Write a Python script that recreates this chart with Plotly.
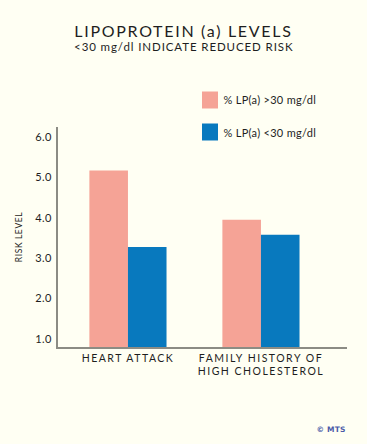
import plotly.graph_objects as go

categories = ["HEART ATTACK", "FAMILY HISTORY OF<br>HIGH CHOLESTEROL"]
series_names = ["% LP(a) >30 mg/dl", "% LP(a) <30 mg/dl"]
high_values = [5.17, 3.95]
low_values = [3.28, 3.58]
y_ticks = [1, 2, 3, 4, 5, 6]
y_tick_labels = ["1.0", "2.0", "3.0", "4.0", "5.0", "6.0"]

PINK = "#F5A396"
BLUE = "#0879BE"
BG = "#FFFFF3"
AXIS = "#8c8c84"
TXT = "#1e1e1e"
FONT = "Lato"

W, H = 367, 444
L, R, T, B = 58, 20, 127, 97
PW, PH = W - L - R, H - T - B


def px(p):
    return (p - L) / PW


def py(p):
    return 1 - (p - T) / PH


fig = go.Figure()
fig.add_trace(go.Bar(x=categories, y=high_values, name=series_names[0],
                     marker=dict(color=PINK, line=dict(width=0)), showlegend=False))
fig.add_trace(go.Bar(x=categories, y=low_values, name=series_names[1],
                     marker=dict(color=BLUE, line=dict(width=0)), showlegend=False))

fig.update_layout(
    width=W, height=H,
    paper_bgcolor=BG, plot_bgcolor=BG,
    margin=dict(l=L, r=R, t=T, b=B, pad=0),
    barmode="group", bargap=0.42, bargroupgap=0,
    font=dict(family=FONT, color=TXT),
    showlegend=False,
    xaxis=dict(range=[-0.526, 1.647], showline=True, linecolor=AXIS, linewidth=2,
               ticks="", showgrid=False, zeroline=False, automargin=False,
               tickfont=dict(size=10.5, color=TXT)),
    yaxis=dict(range=[0.8, 6.25], showline=True, linecolor=AXIS, linewidth=2,
               tickvals=y_ticks, ticktext=y_tick_labels, ticks="", showgrid=False,
               zeroline=False, automargin=False, ticklabelstandoff=2,
               tickfont=dict(size=11, color=TXT),
               title=dict(text="RISK LEVEL", font=dict(size=8.5, color=TXT), standoff=12)),
)

# Title and subtitle
fig.add_annotation(text="LIPOPROTEIN (a) LEVELS", xref="paper", yref="paper",
                   x=px(183), y=py(30), xanchor="center", yanchor="middle",
                   showarrow=False, font=dict(size=16, color=TXT, family=FONT))
fig.add_annotation(text="<30 mg/dl INDICATE REDUCED RISK", xref="paper", yref="paper",
                   x=px(184), y=py(47), xanchor="center", yanchor="middle",
                   showarrow=False, font=dict(size=11.5, color=TXT, family=FONT))

# Custom legend
legend_rows = [(PINK, series_names[0], 100), (BLUE, series_names[1], 132)]
for color, label, yc in legend_rows:
    fig.add_shape(type="rect", xref="paper", yref="paper",
                  x0=px(202), x1=px(218), y0=py(yc - 8.5), y1=py(yc + 8.5),
                  fillcolor=color, line=dict(width=0))
    fig.add_annotation(text=label, xref="paper", yref="paper", x=px(224), y=py(yc),
                       xanchor="left", yanchor="middle", showarrow=False,
                       font=dict(size=11, color=TXT, family=FONT))

fig.add_annotation(text="<b>© MTS</b>", xref="paper", yref="paper", x=px(347), y=py(429),
                   xanchor="right", yanchor="middle", showarrow=False,
                   font=dict(size=7.5, color="#4a5aa8", family="DejaVu Sans"))

post = """
document.documentElement.style.margin = '0';
document.body.style.margin = '0';
document.body.style.padding = '0';
var gd = document.querySelector('.js-plotly-plot');
function sp(sel, v){ gd.querySelectorAll(sel).forEach(function(t){ t.style.letterSpacing = v; }); }
var ann = gd.querySelectorAll('.annotation-text');
var vals = ['1.7px', '0.9px', '0.3px', '0.3px', '0.2px'];
ann.forEach(function(t, i){ t.style.letterSpacing = vals[i] || '0px'; });
sp('.xtick text', '1.5px');
sp('.ytick text', '0.4px');
sp('.g-ytitle text', '0.6px');
"""

fig.write_html("out.html", post_script=post, config={"displayModeBar": False})
